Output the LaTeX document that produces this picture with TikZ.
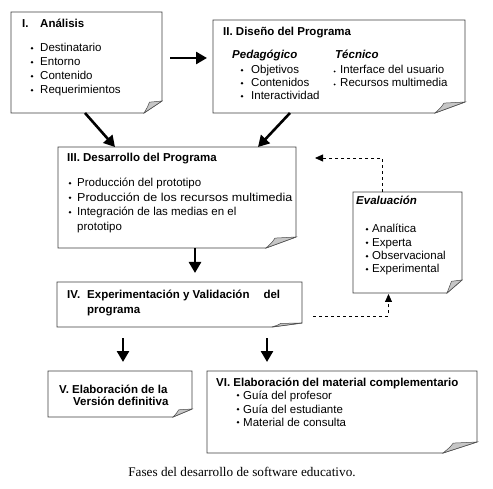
\documentclass[tikz,border=0pt]{standalone}
\usepackage{fontspec}
\setmainfont{Liberation Serif}
\newfontfamily\arial{Liberation Sans}
\usetikzlibrary{arrows.meta}
\tikzset{
  box/.style={draw=none, inner sep=0pt, outer sep=0pt},
  edge/.style={draw=black!75, line width=0.8pt},
  flap/.style={draw=black!70, line width=0.5pt, fill=gray!45},
  txt/.style={anchor=base west, inner sep=0pt, font=\arial\fontsize{11.5}{14}\selectfont},
  ttl/.style={txt, font=\arial\bfseries\fontsize{11.5}{14}\selectfont},
  ttli/.style={txt, font=\arial\bfseries\itshape\fontsize{11.5}{14}\selectfont},
  big/.style={line width=2.6pt, -{Triangle[length=11pt,width=12pt]}},
  dasharrow/.style={line width=0.8pt, dash pattern=on 3pt off 3pt, -{Triangle[length=8pt,width=7pt]}},
  caption/.style={anchor=base, inner sep=0pt, font=\fontsize{13.2}{15}\selectfont},
}
% name, x1, y1, x2, y2, curl width, curl height
\newcommand\pbox[7]{%
  \node[box, minimum width={(#4-#2)*1pt}, minimum height={(#5-#3)*1pt}] (#1) at ({(#2+#4)/2},{(#3+#5)/2}) {};
  \draw[edge] (#1.south west) -- (#1.north west) -- (#1.north east) -- ([yshift=#7pt]#1.south east) -- ([xshift=-#6pt]#1.south east) -- cycle;
  \filldraw[flap] ([xshift=-#6pt]#1.south east) .. controls ([xshift=-0.8*#6pt, yshift=0.5*#7pt]#1.south east) .. ([xshift=-0.7*#6pt, yshift=0.9*#7pt]#1.south east) -- ([yshift=#7pt]#1.south east) -- cycle;
}
\newcommand\bul[2]{\fill (#1,{#2-3.7}) circle (1.4pt);}
\newcommand\sbul[2]{\fill (#1,{#2-2.5}) circle (1.0pt);}
\begin{document}
\begin{tikzpicture}[x=1pt,y=-1pt]
\fill[white] (0,0) rectangle (493,489);
\useasboundingbox (0,0) rectangle (493,489);

% boxes
\pbox{I}{11}{12}{162}{113}{18}{12}
\pbox{II}{213}{20}{465}{113}{30}{11}
\pbox{III}{58}{147}{296}{248}{30}{11}
\pbox{Eval}{353}{192}{462}{293}{15}{13}
\pbox{IV}{57}{282}{302}{327}{30}{4}
\pbox{V}{48}{371}{192}{417}{19}{8}
\pbox{VI}{207}{371}{477}{453}{34}{11}

% Box I
\node[ttl] (i0) at (22,27.5) {I.};
\node[ttl] (i1) at (40,27.5) {Análisis};
\bul{32}{52}\node[txt] (i2) at (40,52) {Destinatario};
\bul{32}{66}\node[txt] (i3) at (40,66) {Entorno};
\bul{32}{80}\node[txt] (i4) at (40,80) {Contenido};
\bul{32}{94}\node[txt] (i5) at (40,94) {Requerimientos};

% Box II
\node[ttl] (ii0) at (223,36) {II. Diseño del Programa};
\node[ttli] (ii1) at (232,59) {Pedagógico};
\node[ttli] (ii2) at (335,59) {Técnico};
\bul{242}{74}\node[txt] (ii3) at (251,74) {Objetivos};
\bul{242}{87}\node[txt] (ii4) at (251,87) {Contenidos};
\bul{242}{100}\node[txt] (ii5) at (251,100) {Interactividad};
\sbul{334.5}{74}\node[txt] (ii6) at (340,74) {Interface del usuario};
\sbul{334.5}{87}\node[txt] (ii7) at (340,87) {Recursos multimedia};

% Box III
\node[ttl] (iii0) at (67,162) {III. Desarrollo del Programa};
\bul{70}{187}\node[txt] (iii1) at (77,187) {Producción del prototipo};
\bul{70}{201.5}\node[txt] (iii2) at (77,201.5) {\scalebox{1.09}[1]{Producción de los recursos multimedia}};
\bul{70}{216}\node[txt] (iii3) at (77,216) {Integración de las medias en el};
\node[txt] (iii4) at (77,230.5) {prototipo};

% Evaluacion
\node[ttli] (ev0) at (356,205) {Evaluación};
\bul{367}{233}\node[txt] (ev1) at (372,233) {Analítica};
\bul{367}{246.5}\node[txt] (ev2) at (372,246.5) {Experta};
\bul{367}{260}\node[txt] (ev3) at (372,260) {Observacional};
\bul{367}{273}\node[txt] (ev4) at (372,273) {Experimental};

% Box IV
\node[ttl] (iv0) at (67,299) {IV.};
\node[ttl] (iv1) at (87,299) {Experimentación y Validación\hspace{14pt}del};
\node[ttl] (iv2) at (87,314) {programa};

% Box V
\node[ttl] (v0) at (59,393) {V. Elaboración de la};
\node[ttl] (v1) at (73,405) {Versión definitiva};

% Box VI
\node[ttl] (vi0) at (216,386) {VI. Elaboración del material complementario};
\bul{238}{399}\node[txt] (vi1) at (243,399) {Guía del profesor};
\bul{238}{413}\node[txt] (vi2) at (243,413) {Guía del estudiante};
\bul{238}{426}\node[txt] (vi3) at (243,426) {Material de consulta};

% caption
\node[caption] (cap) at (242,476) {Fases del desarrollo de software educativo.};

% connectors
\coordinate (a1) at ([yshift=4.5pt]I.east);
\draw[big, shorten <=8pt, shorten >=6pt] (a1) -- (a1 -| II.west);
\draw[big] ([xshift=-1.5pt]I.south) -- ([xshift=-62pt]III.north);
\draw[big] ([xshift=-49pt]II.south) -- ([xshift=81pt]III.north);
\coordinate (c3) at ([xshift=18pt]III.south);
\draw[big, shorten >=9pt] (c3) -- (c3 |- IV.north);
\coordinate (c5) at ([xshift=3pt]V.north);
\draw[big, shorten <=11pt, shorten >=9pt] (c5 |- IV.south) -- (c5);
\coordinate (c6) at ([xshift=-75pt]VI.north);
\draw[big, shorten <=11pt, shorten >=9pt] (c6 |- IV.south) -- (c6);
\coordinate (d1) at ([xshift=11pt,yshift=-11.5pt]IV.east);
\draw[dasharrow, shorten >=1pt] (d1) -| ([xshift=-19pt]Eval.south);
\coordinate (fb) at (315,158);
\draw[dasharrow] ([xshift=-25.5pt]Eval.north) |- (fb);
\end{tikzpicture}
\end{document}
